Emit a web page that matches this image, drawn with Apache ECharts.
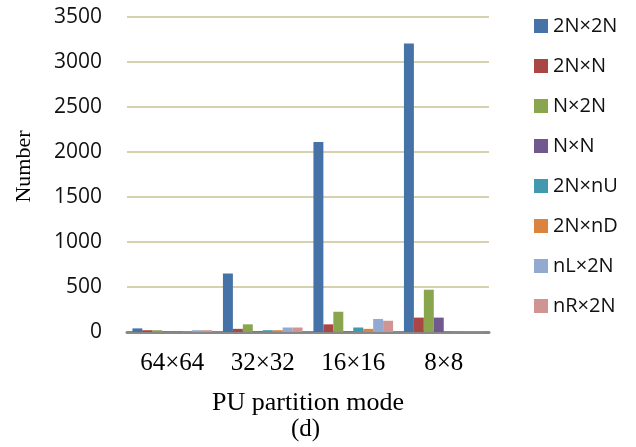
<!DOCTYPE html>
<html>
<head>
<meta charset="utf-8">
<script src="https://cdn.jsdelivr.net/npm/echarts@6/dist/echarts.min.js"></script>
<style>
    html, body { margin: 0; padding: 0; background: #fff; }
    #chart { width: 636px; height: 447px; }
</style>
</head>
<body>
<div id="chart"></div>
<script>
    // 类别与数据
    var categories = ['64×64', '32×32', '16×16', '8×8'];
    var seriesNames = ['2N×2N', '2N×N', 'N×2N', 'N×N', '2N×nU', '2N×nD', 'nL×2N', 'nR×2N'];
    var v2Nx2N = [40, 650, 2110, 3205];
    var v2NxN = [20, 35, 85, 160];
    var vNx2N = [20, 85, 225, 470];
    var vNxN = [3, 5, 5, 160];
    var v2NxnU = [8, 20, 50, 3];
    var v2NxnD = [5, 20, 35, 3];
    var vnLx2N = [20, 50, 145, 3];
    var vnRx2N = [20, 50, 125, 3];
    var yTicks = [0, 500, 1000, 1500, 2000, 2500, 3000, 3500];

    var colors = ['#4572A7', '#AA4643', '#89A54E', '#71588F', '#4198AF', '#DB843D', '#93A9CF', '#D09493'];
    var allValues = [v2Nx2N, v2NxN, vNx2N, vNxN, v2NxnU, v2NxnD, vnLx2N, vnRx2N];

    var myChart = echarts.init(document.getElementById('chart'));

    var series = [];
    for (var i = 0; i < seriesNames.length; i++) {
        series.push({
            name: seriesNames[i],
            type: 'bar',
            data: allValues[i],
            barGap: '0%',
            barCategoryGap: '12%',
            itemStyle: {color: colors[i]}
        });
    }

    var option = {
        animation: false,
        color: colors,
        title: {
            text: '(d)',
            left: 286,
            top: 412,
            textStyle: {fontFamily: 'Liberation Serif', fontSize: 25, fontWeight: 'normal', color: '#000'}
        },
        legend: {
            orient: 'vertical',
            left: 529,
            top: 11,
            itemWidth: 14,
            itemHeight: 14,
            itemGap: 20,
            icon: 'rect',
            textStyle: {fontFamily: 'Open Sans', fontSize: 20, color: '#111'},
            data: seriesNames
        },
        grid: {left: 127, right: 147, top: 17, bottom: 115},
        xAxis: {
            type: 'category',
            data: categories,
            name: 'PU partition mode',
            nameLocation: 'middle',
            nameGap: 58,
            nameTextStyle: {fontFamily: 'Liberation Serif', fontSize: 26, color: '#000'},
            axisLine: {lineStyle: {color: '#888', width: 3}},
            axisTick: {show: false},
            axisLabel: {fontFamily: 'Liberation Serif', fontSize: 25, color: '#000', margin: 19}
        },
        yAxis: {
            type: 'value',
            min: yTicks[0],
            max: yTicks[yTicks.length - 1],
            interval: 500,
            name: 'Number',
            nameLocation: 'middle',
            nameGap: 92,
            nameTextStyle: {fontFamily: 'Liberation Serif', fontSize: 22, color: '#000', padding: [0, 0, 0, 16]},
            axisLine: {show: false},
            axisTick: {show: false},
            axisLabel: {
                fontFamily: 'Open Sans', fontSize: 21, color: '#111', margin: 25,
                formatter: function (v) { return String(v); }
            },
            splitLine: {lineStyle: {color: '#D6D1AE', width: 2}}
        },
        series: series
    };

    myChart.setOption(option);
</script>
</body>
</html>
